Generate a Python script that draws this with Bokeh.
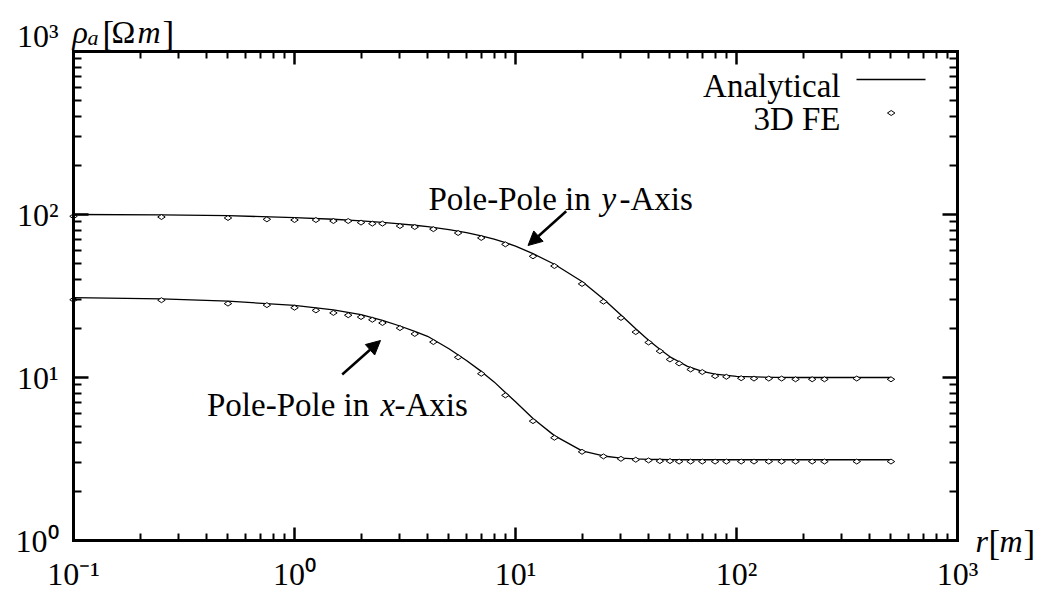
import numpy as np
from bokeh.plotting import figure
from bokeh.models import (LogAxis, FixedTicker, Label, Arrow, NormalHead,
                          CustomJSTickFormatter, Range1d)
from bokeh.embed import file_html
from bokeh.resources import INLINE

# ---------------- data ----------------
r_fe = [0.1, 0.25, 0.5, 0.75, 1.0, 1.25, 1.5, 1.75, 2.0, 2.25, 2.5, 3.0, 3.5,
        4.25, 5.5, 7.0, 9.0, 12.0, 15.0, 20.0, 25.0, 30.0, 35.0, 40.0, 45.0,
        50.0, 55.0, 62.0, 70.0, 80.0, 90.0, 105.0, 120.0, 140.0, 160.0,
        185.0, 220.0, 250.0, 350.0, 500.0]
rho_y_fe = [97.5, 96.5, 95.2, 93.4, 92.5, 92.5, 91.2, 91.2, 89.2, 87.9, 87.9,
            85.0, 83.8, 81.3, 77.0, 71.8, 65.6, 55.4, 48.3, 37.5, 29.2, 23.2,
            19.0, 16.4, 14.5, 12.9, 12.2, 11.2, 10.8, 10.2, 10.1, 9.9, 9.85,
            9.85, 9.85, 9.75, 9.75, 9.75, 9.85, 9.75]
rho_x_fe = [30.0, 29.8, 28.4, 27.8, 26.8, 25.8, 24.9, 24.1, 23.5, 22.6, 21.6,
            20.1, 18.5, 16.5, 13.3, 10.55, 7.77, 5.40, 4.27, 3.50, 3.28, 3.17,
            3.13, 3.10, 3.07, 3.07, 3.05, 3.05, 3.05, 3.05, 3.05, 3.05, 3.05,
            3.05, 3.05, 3.05, 3.05, 3.05, 3.05, 3.05]

r_an = [0.1, 0.25, 0.5, 1.0, 1.5, 2.0, 2.5, 3.0, 3.5, 4.0, 5.0, 6.0, 7.0, 8.0,
        9.0, 10.0, 12.0, 15.0, 20.0, 25.0, 30.0, 35.0, 40.0, 45.0, 50.0, 60.0,
        70.0, 80.0, 100.0, 150.0, 200.0, 500.0]
rho_y_an = [100.0, 99.5, 98.3, 95.8, 93.5, 91.4, 89.5, 87.6, 85.9, 84.2, 80.7,
            77.5, 74.0, 70.6, 67.2, 64.0, 57.5, 49.5, 38.8, 30.3, 24.2, 19.9,
            16.9, 14.9, 13.4, 11.7, 10.9, 10.5, 10.15, 10.02, 10.0, 10.0]
rho_x_an = [30.9, 30.4, 29.4, 27.7, 26.0, 24.3, 22.4, 20.7, 19.2, 17.9, 15.0,
            12.7, 10.9, 9.4, 8.1, 7.1, 5.6, 4.4, 3.55, 3.3, 3.2, 3.17, 3.15,
            3.14, 3.13, 3.13, 3.13, 3.13, 3.13, 3.13, 3.13, 3.13]

x_lo, x_hi = 0.1, 1000.0
y_lo, y_hi = 1.0, 1000.0
major_ticks = [0.1, 1, 10, 100, 1000]
minor_ticks = [m * 10.0 ** e for e in range(-1, 3) for m in range(2, 10)]
y_major_ticks = [1, 10, 100, 1000]
y_left_major_ticks = [1, 10, 100]
y_minor_ticks = [m * 10.0 ** e for e in range(0, 3) for m in range(2, 10)]

legend_labels = ["Analytical", "3D FE"]

FONT = "Liberation Serif"

# page layout: the axes box spans these pixels; the canvas is the whole page
W, H = 1043, 591
FL, FT, FW, FH = 73, 51, 884, 489
XDEC = FW / 4.0   # px per decade (x)
YDEC = FH / 3.0   # px per decade (y)

def px2x(px):
    return 10 ** (-1 + (px - FL) / XDEC)

def py2y(py):
    return 10 ** ((FT + FH - py) / YDEC)

# ---------------- figure (frame = whole canvas, axes fixed on the box) -----
p = figure(x_axis_type="log", y_axis_type="log",
           x_range=Range1d(px2x(0), px2x(W)), y_range=Range1d(py2y(H), py2y(0)),
           frame_width=W, frame_height=H, min_border=0,
           x_axis_location=None, y_axis_location=None,
           output_backend="svg", toolbar_location=None)
p.outline_line_color = None
p.grid.visible = False
p.background_fill_color = "white"
p.border_fill_color = "white"

sup_code = """
const sup = {'-':'\u207b','0':'\u2070','1':'\u00b9','2':'\u00b2','3':'\u00b3'};
const e = Math.round(Math.log10(tick));
return '10' + String(e).split('').map(c => sup[c]).join('');
"""

def make_axis(ticks, minors, loc, bounds, major_in, minor_in, show_labels):
    ax = LogAxis(fixed_location=loc, bounds=bounds)
    ax.ticker = FixedTicker(ticks=ticks, minor_ticks=minors)
    ax.axis_line_width = 3
    ax.axis_line_color = "black"
    ax.axis_line_cap = "square"
    ax.major_tick_in = major_in
    ax.major_tick_out = 0
    ax.minor_tick_in = minor_in
    ax.minor_tick_out = 0
    ax.major_tick_line_width = 2.5
    ax.minor_tick_line_width = 2
    ax.major_tick_line_color = "black"
    ax.minor_tick_line_color = "black"
    ax.major_label_text_font = FONT
    ax.major_label_text_font_size = "32px"
    ax.major_label_text_color = "black"
    if show_labels:
        ax.formatter = CustomJSTickFormatter(code=sup_code)
        ax.major_label_standoff = 15
    else:
        ax.major_label_text_alpha = 0
        ax.major_label_standoff = 0
    return ax

p.add_layout(make_axis(major_ticks, minor_ticks, y_lo, (x_lo, x_hi), 13, 7, True), "below")
p.add_layout(make_axis(y_left_major_ticks, y_minor_ticks, x_lo, (y_lo, y_hi), 15, 8, True), "left")
p.add_layout(make_axis(major_ticks, minor_ticks, y_hi, (x_lo, x_hi), 13, 7, False), "above")
p.add_layout(make_axis(y_major_ticks, y_minor_ticks, x_hi, (y_lo, y_hi), 15, 8, False), "right")

# ---------------- data marks ----------------
p.line(r_an, rho_y_an, line_color="black", line_width=1.3)
p.line(r_an, rho_x_an, line_color="black", line_width=1.3)
p.scatter(r_fe, rho_y_fe, marker="diamond", size=7.5, angle=np.pi / 2,
          fill_color="white", line_color="black", line_width=1)
p.scatter(r_fe, rho_x_fe, marker="diamond", size=7.5, angle=np.pi / 2,
          fill_color="white", line_color="black", line_width=1)

# ---------------- legend (label left, key right) ----------------
p.line([px2x(856), px2x(925)], [py2y(79), py2y(79)], line_color="black",
       line_width=1.3)
p.scatter([px2x(890.7)], [py2y(112.5)], marker="diamond", size=7.5,
          angle=np.pi / 2, fill_color="white", line_color="black", line_width=1)

def lab(text, px, py, size="33px", style="normal", align="left"):
    p.add_layout(Label(x=px2x(px), y=py2y(py), text=text, text_font=FONT,
                       text_font_size=size, text_font_style=style,
                       text_align=align, text_baseline="alphabetic",
                       text_color="black"))

lab(legend_labels[0], 840, 85, align="right")
lab(legend_labels[1], 840, 118, align="right")

# ---------------- annotations ----------------
lab("Pole-Pole in ", 428, 198)
lab("y", 601, 198, style="italic")
lab("-Axis", 619, 198)

lab("Pole-Pole in ", 206.5, 404)
lab("x", 380, 404, style="italic")
lab("-Axis", 394, 404)

p.add_layout(Arrow(end=NormalHead(size=14, fill_color="black", line_color="black"),
                   x_start=px2x(565.7), y_start=py2y(210.7),
                   x_end=px2x(527.5), y_end=py2y(245),
                   line_width=2.5, line_color="black"))
p.add_layout(Arrow(end=NormalHead(size=14, fill_color="black", line_color="black"),
                   x_start=px2x(341.7), y_start=py2y(374),
                   x_end=px2x(380), y_end=py2y(340),
                   line_width=2.5, line_color="black"))

# ---------------- axis titles ----------------
lab("\u03c1", 72, 31.5, size="32px", style="italic")
lab("a", 87, 37, size="22px", style="italic")
lab("[", 102, 34, size="35px")
lab("\u03a9", 111, 31.5, size="32px")
lab("m", 137, 31.5, size="32px", style="italic")
lab("]", 162, 34, size="35px")

lab("r", 975, 540, size="32px", style="italic")
lab("[", 988, 543, size="35px")
lab("m", 999, 540, size="32px", style="italic")
lab("]", 1023, 543, size="35px")

# y-axis top label placed as in the reference
lab("10\u00b3", 58, 35, size="32px", align="right")

open("out.html", "w").write(file_html(p, INLINE))
